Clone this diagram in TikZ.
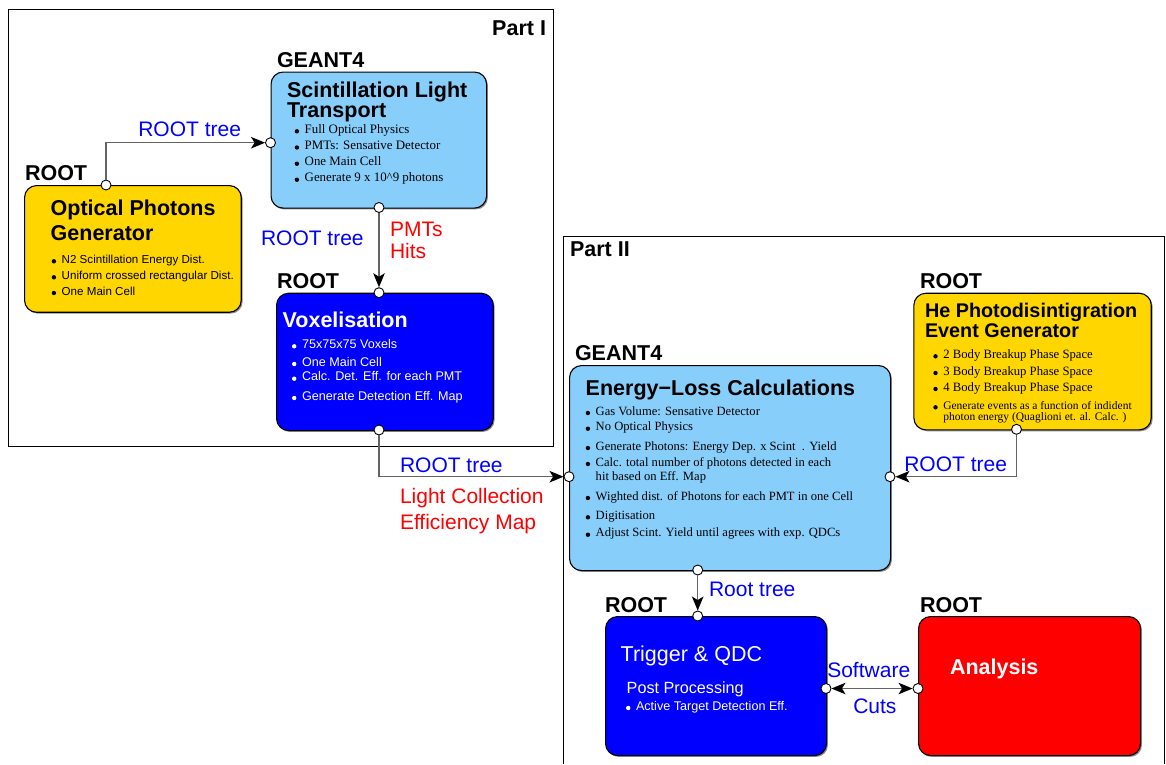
\documentclass[tikz,border=0pt]{standalone}
\usepackage{fontspec}
\setmainfont{Liberation Serif}
\setsansfont{Liberation Sans}
\usetikzlibrary{arrows.meta,shadows}

\definecolor{skyfill}{RGB}{135,206,250}
\definecolor{goldfill}{RGB}{255,214,0}
\definecolor{bluefill}{RGB}{0,0,255}
\definecolor{redfill}{RGB}{255,0,0}
\definecolor{lblblue}{RGB}{0,0,255}
\definecolor{lblred}{RGB}{255,0,0}
\definecolor{wirecol}{RGB}{100,100,100}

\newcommand\fs[1]{\fontsize{#1}{#1}\selectfont}
% bullet item: [colour]{name}{x}{y}{text}
\newcommand\bitem[5][black]{%
  \fill[#1] ({#3-7.8},{#4-2}) circle (2.2pt);
  \node[txt,text=#1] (#2) at (#3,#4) {#5};}

\tikzset{
  box/.style={draw=black, line width=1.1pt, rounded corners=12pt,
    anchor=north west, inner sep=0pt,
    drop shadow={shadow xshift=1.4pt, shadow yshift=-1.4pt, fill=black, opacity=0.45}},
  port/.style={circle, draw=black, fill=white, line width=0.9pt,
    inner sep=0pt, minimum size=10pt},
  wire/.style={draw=wirecol, line width=1.3pt},
  tip/.style={-{Stealth[length=14pt,width=11.5pt,inset=3.5pt,color=black]}},
  twotip/.style={{Stealth[length=14pt,width=11.5pt,inset=3.5pt,color=black]}-{Stealth[length=14pt,width=11.5pt,inset=3.5pt,color=black]}},
  txt/.style={anchor=base west, inner sep=0pt, outer sep=0pt},
  tag/.style={txt, font=\sffamily\bfseries\fs{21.5}},
  ttl/.style={txt, font=\sffamily\bfseries\fs{21.5}},
  lbl/.style={txt, font=\sffamily\fs{21}},
}

\begin{document}
\begin{tikzpicture}[x=1pt,y=-1pt]
\useasboundingbox (0,0) rectangle (1166,764);
\fill[white] (0,0) rectangle (1166,764);

% part frames
\draw[line width=0.9pt] (8.5,9.5) rectangle (553.5,446.5);
\draw[line width=0.9pt] (563.5,764) -- (563.5,236.5) -- (1164.5,236.5) -- (1164.5,764);
\node[tag, anchor=base east] (part1) at (546,35) {Part I};
\node[tag] (part2) at (570,256) {Part II};

% boxes
\node[box, fill=skyfill, minimum width=215.5pt, minimum height=136pt] (scint) at (270.5,71.5) {};
\node[box, fill=goldfill, minimum width=216.7pt, minimum height=126.7pt] (optic) at (24,185) {};
\node[box, fill=bluefill, minimum width=216.7pt, minimum height=137.3pt] (voxel) at (276,292.7) {};
\node[box, fill=goldfill, minimum width=237.4pt, minimum height=136.6pt] (hegen) at (913.3,292.7) {};
\node[box, fill=skyfill, minimum width=321pt, minimum height=205pt] (eloss) at (569,365) {};
\node[box, fill=bluefill, minimum width=221pt, minimum height=139pt] (trig) at (605,616) {};
\node[box, fill=redfill, minimum width=222pt, minimum height=139pt] (ana) at (918,616) {};

% framework tags
\node[tag] (tagA) at (25,180) {ROOT};
\node[tag] (tagB) at (277,67) {GEANT4};
\node[tag] (tagC) at (277,288) {ROOT};
\node[tag] (tagD) at (920,288) {ROOT};
\node[tag] (tagE) at (575,360) {GEANT4};
\node[tag] (tagF) at (605,612) {ROOT};
\node[tag] (tagG) at (920,612) {ROOT};

% Scintillation light transport
\node[ttl] (scintT1) at (287,97.3) {Scintillation Light};
\node[ttl] (scintT2) at (287,117) {Transport};
\begin{scope}[every node/.append style={font=\rmfamily\fs{12.9}}]
\bitem{s1}{304.7}{133.3}{Full Optical Physics}
\bitem{s2}{304.7}{149.5}{PMTs: Sensative Detector}
\bitem{s3}{304.7}{165.7}{One Main Cell}
\bitem{s4}{304.7}{181.7}{Generate 9 x 10\textasciicircum9 photons}
\end{scope}

% Optical photons generator
\node[ttl] (opticT1) at (50.7,215) {Optical Photons};
\node[ttl] (opticT2) at (50.7,240) {Generator};
\begin{scope}[every node/.append style={font=\sffamily\fs{11.6}}]
\bitem{o1}{61.7}{263.3}{N2 Scintillation Energy Dist.}
\bitem{o2}{61.7}{279.3}{Uniform crossed rectangular Dist.}
\bitem{o3}{61.7}{295}{One Main Cell}
\end{scope}

% Voxelisation
\node[ttl, text=white] (voxelT) at (282.7,327.3) {Voxelisation};
\begin{scope}[every node/.append style={font=\sffamily\fs{12.6}}]
\bitem[white]{v1}{302}{348.3}{75x75x75 Voxels}
\bitem[white]{v2}{302}{366}{One Main Cell}
\bitem[white]{v3}{302}{380.7}{Calc. Det. Eff. for each PMT}
\bitem[white]{v4}{302}{400}{Generate Detection Eff. Map}
\end{scope}

% He photodisintegration generator
\node[ttl, font=\sffamily\bfseries\fs{19.8}] (hegenT1) at (925,317.3) {He Photodisintigration};
\node[ttl, font=\sffamily\bfseries\fs{19.8}] (hegenT2) at (925,337) {Event Generator};
\begin{scope}[every node/.append style={font=\rmfamily\fs{12.7}}]
\bitem{h1}{943.3}{358.3}{2 Body Breakup Phase Space}
\bitem{h2}{943.3}{375}{3 Body Breakup Phase Space}
\bitem{h3}{943.3}{391}{4 Body Breakup Phase Space}
\end{scope}
\begin{scope}[every node/.append style={font=\rmfamily\fs{11.5}}]
\bitem{h4}{943.3}{409.3}{Generate events as a function of indident}
\node[txt] (h4b) at (943.3,420.7) {photon energy (Quaglioni et. al. Calc. )};
\end{scope}

% Energy-loss calculations
\node[ttl] (elossT) at (585.7,395) {Energy−Loss Calculations};
\begin{scope}[every node/.append style={font=\rmfamily\fs{12.6}}]
\bitem{e1}{595.7}{415}{Gas Volume: Sensative Detector}
\bitem{e2}{595.7}{430.7}{No Optical Physics}
\bitem{e3}{595.7}{450}{Generate Photons: Energy Dep. x Scint~~. Yield}
\bitem{e4}{595.7}{466}{Calc. total number of photons detected in each}
\node[txt] (e4b) at (595.7,480.7) {hit based on Eff. Map};
\bitem{e5}{595.7}{500}{Wighted dist. of Photons for each PMT in one Cell}
\bitem{e6}{595.7}{519.3}{Digitisation}
\bitem{e7}{595.7}{536.7}{Adjust Scint. Yield until agrees with exp. QDCs}
\end{scope}

% Trigger and QDC
\node[txt, text=white, font=\sffamily\fs{21.5}] (trigT) at (620.7,661.7) {Trigger \& QDC};
\node[txt, text=white, font=\sffamily\fs{16.2}] (trigS) at (626.7,693.3) {Post Processing};
\begin{scope}[every node/.append style={font=\sffamily\fs{12.6}}]
\bitem[white]{t1}{636}{710}{Active Target Detection Eff.}
\end{scope}

% Analysis
\node[ttl, text=white] (anaT) at (950,674) {Analysis};

% ports
\node[port] (optT)   at (106,185) {};
\node[port] (scintL) at (270.5,142.7) {};
\node[port] (scintB) at (379,207.5) {};
\node[port] (voxT)   at (379,292.7) {};
\node[port] (voxB)   at (379,430) {};
\node[port] (elL)    at (569,476.7) {};
\node[port] (elR)    at (890,476.7) {};
\node[port] (heB)    at (1016.5,429.3) {};
\node[port] (elB)    at (697.7,570) {};
\node[port] (trigTp) at (697.7,616) {};
\node[port] (trigR)  at (826,688.5) {};
\node[port] (anaL)   at (918,688.5) {};

% connectors
\draw[wire,tip] (optT) |- (scintL);
\draw[wire,tip] (scintB) -- (voxT);
\draw[wire,tip] (voxB) |- (elL);
\draw[wire,tip] (heB) |- (elR);
\draw[wire,tip] (elB) -- (trigTp);
\draw[wire,twotip] (trigR) -- (anaL);

% connector labels
\node[lbl, text=lblblue] (l1) at (138.3,136.7) {ROOT tree};
\node[lbl, text=lblblue] (l2) at (261,245) {ROOT tree};
\node[lbl, text=lblred] (l3a) at (390,236.7) {PMTs};
\node[lbl, text=lblred] (l3b) at (390,258.3) {Hits};
\node[lbl, text=lblblue] (l4) at (400,472) {ROOT tree};
\node[lbl, text=lblred] (l5a) at (400,503) {Light Collection};
\node[lbl, text=lblred] (l5b) at (400,529) {Efficiency Map};
\node[lbl, text=lblblue] (l6) at (904.3,471.7) {ROOT tree};
\node[lbl, text=lblblue] (l7) at (709,596) {Root tree};
\node[lbl, text=lblblue] (l8a) at (827.3,677.3) {Software};
\node[lbl, text=lblblue] (l8b) at (853.3,713.3) {Cuts};
\end{tikzpicture}
\end{document}
